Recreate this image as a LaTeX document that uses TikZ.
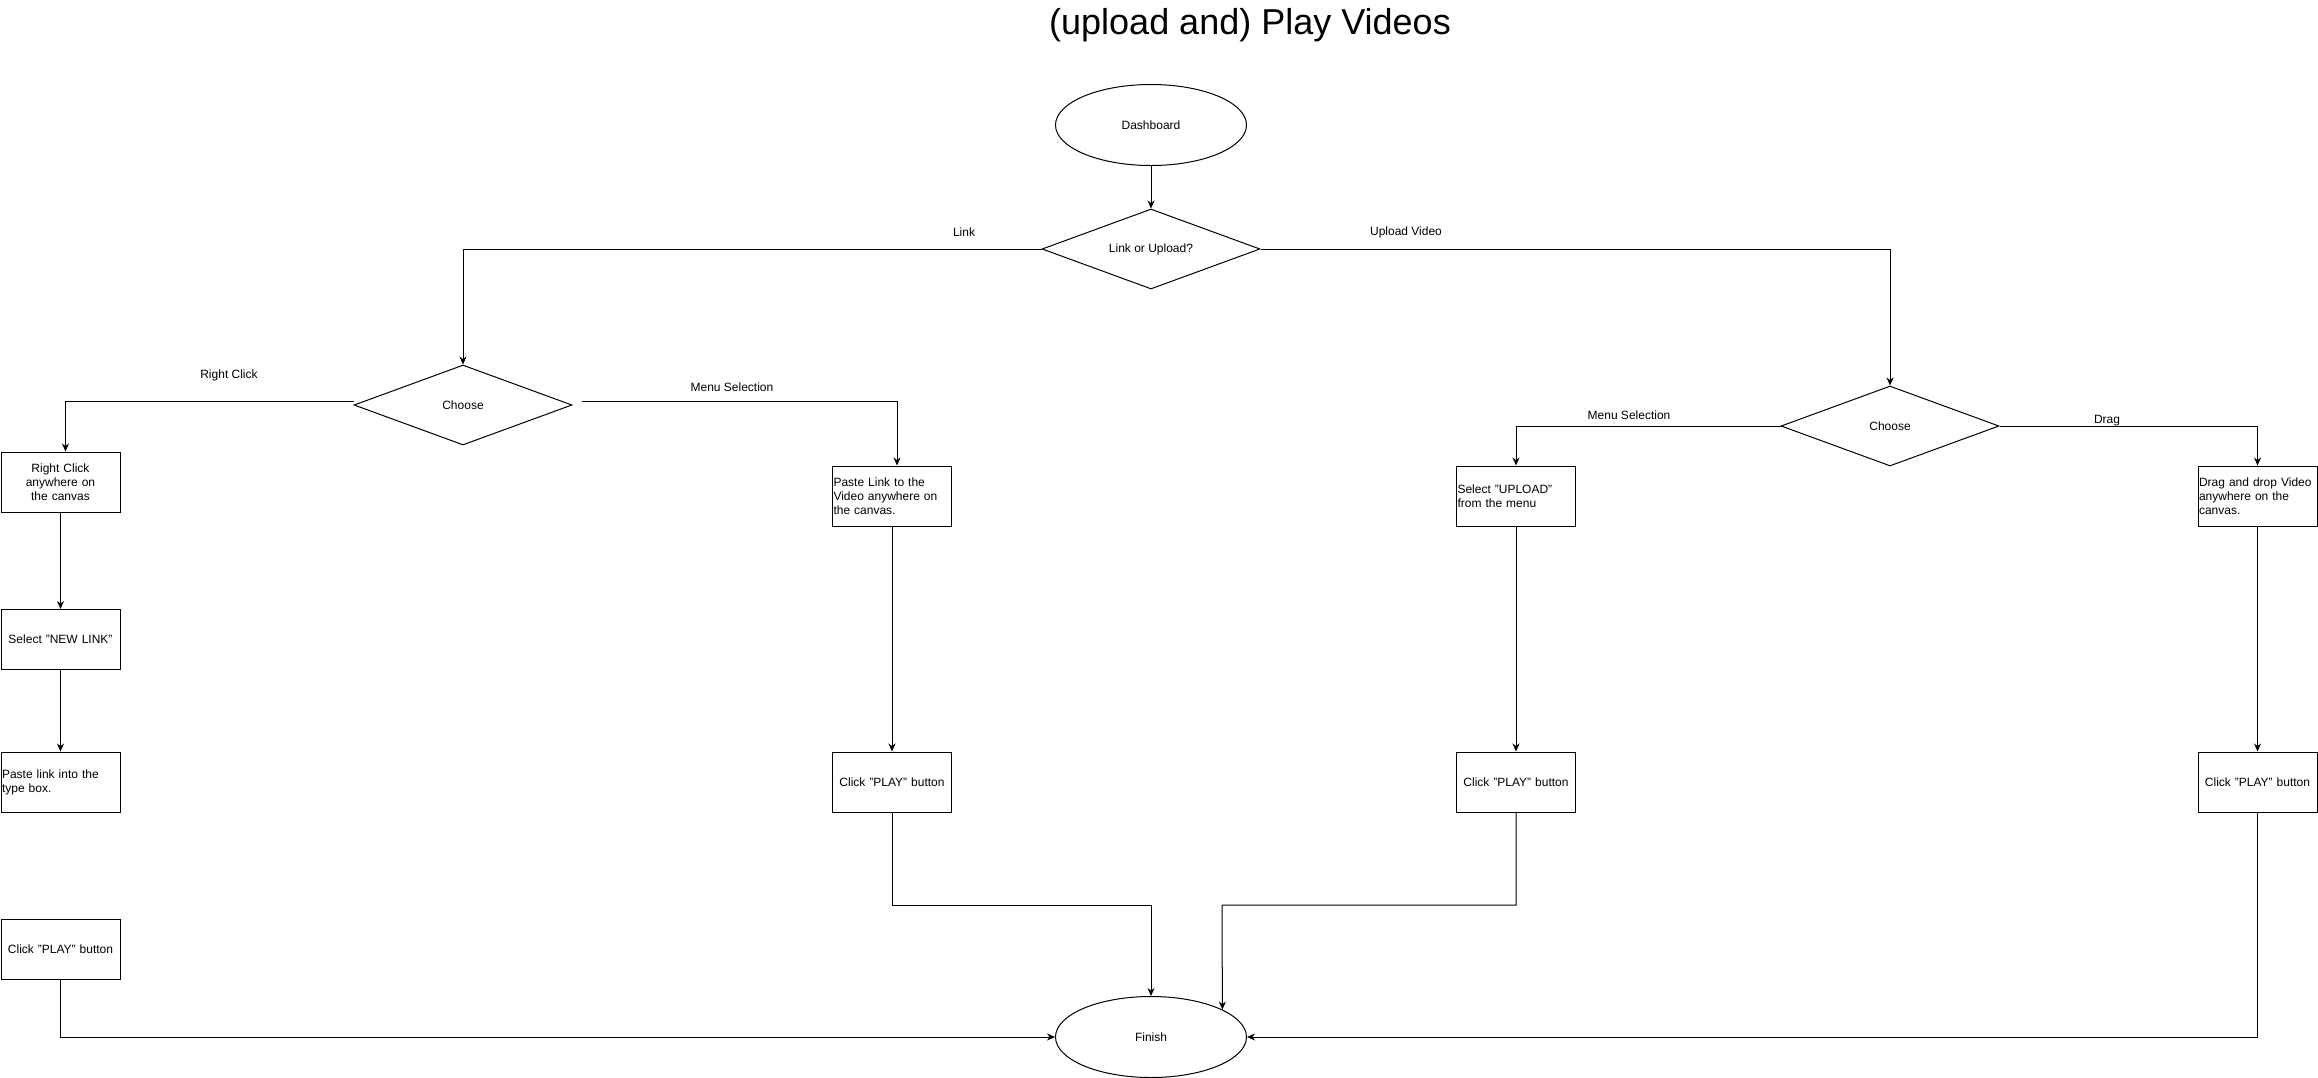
\documentclass[tikz,border=0pt]{standalone}
\usepackage{fontspec}
\setmainfont{Liberation Sans}
\usetikzlibrary{shapes.geometric,arrows.meta}
\begin{document}
\begin{tikzpicture}[x=1pt,y=-1pt,
  txt/.style={font=\fontsize{12}{14}\selectfont},
  box/.style={draw, line width=1pt, minimum width=119pt, minimum height=60pt, inner sep=1pt, txt},
  lbox/.style={box, text width=117pt, align=left},
  cbox/.style={box, text width=117pt, align=center},
  dia/.style={draw, line width=1pt, diamond, aspect=2.7, minimum width=218pt, minimum height=80pt, inner sep=0pt, txt},
  ell/.style={draw, line width=1pt, ellipse, minimum width=191pt, minimum height=81pt, inner sep=0pt, txt},
  lbl/.style={txt, inner sep=0pt},
  conn/.style={draw, line width=1pt, -{Stealth[length=8pt,width=7pt]}},
  plain/.style={draw, line width=1pt}
]
\useasboundingbox (0,0) rectangle (2318,1077);

\node[font=\fontsize{36}{43}\selectfont, inner sep=0pt] (title) at (1250,25) {(upload and) Play Videos};

\node[ell] (dash) at (1151,125) {Dashboard};
\node[dia] (lu) at (1151,249) {Link or Upload?};
\node[dia] (cl) at (463,405) {Choose};
\node[dia] (cr) at (1890,426) {Choose};
\node[ell] (fin) at (1151,1037) {Finish};

\node[cbox] (b1) at (60.5,482) {Right Click\\anywhere on\\the canvas};
\node[cbox] (b2) at (60.5,639.5) {Select "NEW LINK"};
\node[lbox] (b3) at (60.5,782) {Paste link into the\\type box.};
\node[cbox] (b4) at (60.5,949) {Click "PLAY" button};

\node[lbox] (p1) at (892,496) {Paste Link to the\\Video anywhere on\\the canvas.};
\node[cbox] (p2) at (892,782) {Click "PLAY" button};

\node[lbox] (u1) at (1516,496) {Select "UPLOAD"\\from the menu};
\node[cbox] (u2) at (1516,782) {Click "PLAY" button};

\node[lbox] (d1) at (2257.5,496) {Drag and drop Video\\anywhere on the\\canvas.};
\node[cbox] (d2) at (2257.5,782) {Click "PLAY" button};

\node[lbl] (llink) at (964,232) {Link};
\node[lbl] (lup) at (1406,232) {Upload Video};
\node[lbl] (lrc) at (229,375) {Right Click};
\node[lbl] (lms1) at (732,387) {Menu Selection};
\node[lbl] (lms2) at (1629,415) {Menu Selection};
\node[lbl] (ldrag) at (2107,421) {Drag};

\coordinate (j2) at (1151,905);
\coordinate (j3) at (1222,905);

\draw[conn] (dash) -- (lu);
\draw[conn] (lu.west) -| (cl.north);
\draw[conn] (lu.east) -| (cr.north);
\draw[conn] ([yshift=4pt]cl.west) -| ([xshift=5pt]b1.north);
\draw[conn] ([xshift=9pt,yshift=4pt]cl.east) -| ([xshift=5pt]p1.north);
\draw[conn] (b1) -- (b2);
\draw[conn] (b2) -- (b3);
\draw[conn] (b4.south) |- (fin.west);
\draw[conn] (p1) -- (p2);
\draw[conn] (p2.south) |- (j2) -- (fin.north);
\draw[conn] (cr.west) -| (u1.north);
\draw[conn] (cr.east) -| (d1.north);
\draw[conn] (u1) -- (u2);
\draw[conn] (u2.south) |- (j3) -- (fin.21);
\draw[conn] (d1) -- (d2);
\draw[conn] (d2.south) |- (fin.east);
\end{tikzpicture}
\end{document}
